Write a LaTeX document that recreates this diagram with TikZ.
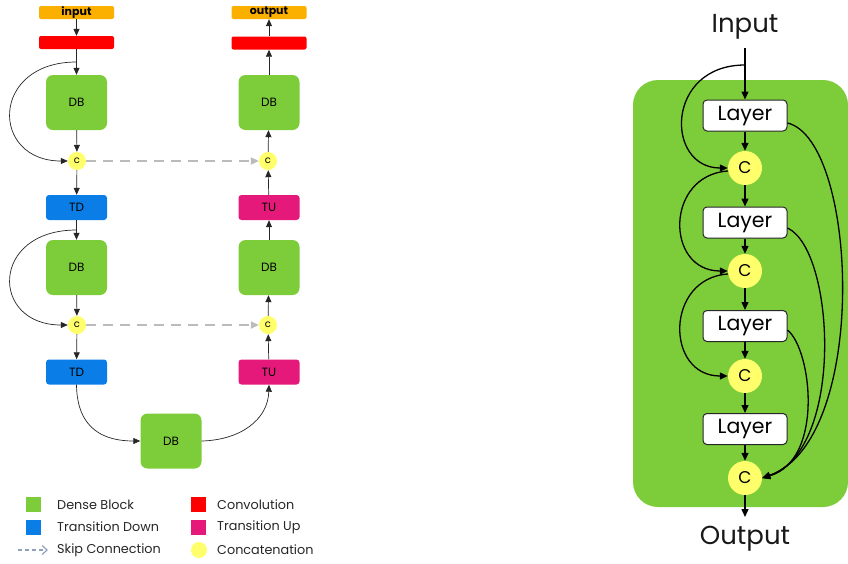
\documentclass[tikz,border=0pt]{standalone}
\usepackage{fontspec}
\setmainfont{Poppins}
\usetikzlibrary{arrows.meta}
\definecolor{dbgreen}{HTML}{7DCD3B}
\definecolor{inorange}{HTML}{FBB000}
\definecolor{convred}{HTML}{FF0000}
\definecolor{tdblue}{HTML}{0B7DE6}
\definecolor{tumag}{HTML}{E5197A}
\definecolor{catyellow}{HTML}{FFFF6B}
\definecolor{skipgray}{HTML}{BBBBBB}
\definecolor{legskip}{HTML}{8FA0BA}
\begin{document}
\begin{tikzpicture}[x=1pt,y=-1pt,
  iobox/.style={fill=inorange, rounded corners=2pt, minimum width=75pt, minimum height=13pt, inner sep=0pt, font=\fontsize{11}{11}\selectfont\bfseries},
  convbox/.style={fill=convred, rounded corners=2pt, minimum width=75pt, minimum height=13pt, inner sep=0pt},
  dbbox/.style={fill=dbgreen, rounded corners=7pt, minimum width=61pt, minimum height=55pt, inner sep=0pt, font=\fontsize{12}{12}\selectfont},
  tdbox/.style={fill=tdblue, rounded corners=3pt, minimum width=61pt, minimum height=25pt, inner sep=0pt, font=\fontsize{12}{12}\selectfont},
  tubox/.style={fill=tumag, rounded corners=3pt, minimum width=61pt, minimum height=25pt, inner sep=0pt, font=\fontsize{12}{12}\selectfont},
  catnode/.style={circle, fill=catyellow, minimum size=18pt, inner sep=0pt, font=\fontsize{10}{10}\selectfont},
  arr/.style={-{Triangle[length=7pt,width=6pt]}, line width=0.7pt, black!85},
  skiparr/.style={-{Triangle[length=8pt,width=7pt]}, line width=2.2pt, skipgray, dash pattern=on 10pt off 7pt},
  legtext/.style={anchor=west, inner sep=0pt, font=\fontsize{12.8}{12.8}\selectfont, text=black!85},
  layerbox/.style={draw=black!85, fill=white, rounded corners=4pt, line width=1pt, minimum width=84pt, minimum height=31pt, inner sep=0pt, font=\fontsize{20.5}{20.5}\selectfont},
  bigcat/.style={circle, fill=catyellow, minimum size=34pt, inner sep=0pt, font=\fontsize{17}{17}\selectfont},
  rarr/.style={-{Triangle[length=8pt,width=7pt]}, line width=1.3pt, black},
  bigtext/.style={font=\fontsize{26}{26}\selectfont, inner sep=0pt, text=black!90}
]
\useasboundingbox (0,0) rectangle (848,563);

% ---------- left: encoder column ----------
\node[iobox] (in) at (76.5,12.5) {input};
\node[convbox] (conv1) at (76.5,42.5) {};
\node[dbbox] (db1) at (76.5,102.5) {DB};
\node[catnode] (c1) at (77,161) {c};
\node[tdbox] (td1) at (76.5,207.5) {TD};
\node[dbbox] (db2) at (76.5,267.5) {DB};
\node[catnode] (c2) at (77,325) {c};
\node[tdbox] (td2) at (76.5,372) {TD};
\node[dbbox] (db3) at (171,441) {DB};

% ---------- left: decoder column ----------
\node[iobox] (out) at (269,12.5) {output};
\node[convbox] (conv2) at (269,43) {};
\node[dbbox] (dbr1) at (269,102.5) {DB};
\node[catnode] (cr1) at (268,161) {c};
\node[tubox] (tu1) at (269,207.5) {TU};
\node[dbbox] (dbr2) at (269,267.5) {DB};
\node[catnode] (cr2) at (268,325) {c};
\node[tubox] (tu2) at (269,372) {TU};

\draw[arr] (in) -- (conv1);
\draw[arr] (conv1) -- (db1);
\draw[arr] (db1) -- (c1);
\draw[arr] (c1) -- (td1);
\draw[arr] (td1) -- (db2);
\draw[arr] (db2) -- (c2);
\draw[arr] (c2) -- (td2);

\draw[arr] (tu2) -- (cr2);
\draw[arr] (cr2) -- (dbr2);
\draw[arr] (dbr2) -- (tu1);
\draw[arr] (tu1) -- (cr1);
\draw[arr] (cr1) -- (dbr1);
\draw[arr] (dbr1) -- (conv2);
\draw[arr] (conv2) -- (out);

\coordinate (s1) at (76.5,62);
\coordinate (s2) at (76.5,230);
\draw[arr] (s1) .. controls (-10,62) and (-10,161) .. (c1.west);
\draw[arr] (s2) .. controls (-10,230) and (-10,325) .. (c2.west);

\draw[arr] (td2.south) .. controls (77,430) and (105,441) .. (db3.west);
\draw[arr] (db3.east) .. controls (240,440) and (268,420) .. (tu2.south);

\draw[skiparr] (c1.east) -- (cr1.west);
\draw[skiparr] (c2.east) -- (cr2.west);

% ---------- legend ----------
\node[fill=dbgreen, minimum size=15pt, inner sep=0pt] (lg1) at (33.5,504.5) {};
\node[fill=tdblue, minimum size=15pt, inner sep=0pt] (lg2) at (33.5,527) {};
\coordinate (lg3a) at (18,550);
\coordinate (lg3b) at (48,550);
\draw[-{Straight Barb[length=5pt,width=9pt]}, line width=1.2pt, legskip, dash pattern=on 4pt off 3pt] (lg3a) -- (lg3b);
\node[fill=convred, minimum size=15pt, inner sep=0pt] (lg4) at (198.5,504.5) {};
\node[fill=tumag, minimum size=15pt, inner sep=0pt] (lg5) at (198.5,527) {};
\node[circle, fill=catyellow, minimum size=16pt, inner sep=0pt] (lg6) at (199,550) {};
\node[legtext] (t1) at (57,504.5) {Dense Block};
\node[legtext] (t2) at (57,527) {Transition Down};
\node[legtext] (t3) at (57,550) {Skip Connection};
\node[legtext] (t4) at (217,504.5) {Convolution};
\node[legtext] (t5) at (217,527) {Transition Up};
\node[legtext] (t6) at (217,550) {Concatenation};

% ---------- right: dense block detail ----------
\fill[dbgreen, rounded corners=25pt] (633,80) rectangle (848,507);
\node[bigtext] (inp) at (745,27) {Input};
\node[bigtext] (outp) at (745,539) {Output};
\coordinate (ti) at (745,48);
\coordinate (to) at (745,517);
\coordinate (tb) at (745,65);

\node[layerbox] (L1) at (745,115.5) {Layer};
\node[bigcat] (K1) at (745,168) {C};
\node[layerbox] (L2) at (745,222.5) {Layer};
\node[bigcat] (K2) at (745,271) {C};
\node[layerbox] (L3) at (745,326) {Layer};
\node[bigcat] (K3) at (745,376) {C};
\node[layerbox] (L4) at (745,429) {Layer};
\node[bigcat] (K4) at (745,478) {C};

\draw[rarr] (ti) -- (L1);
\draw[rarr] (L1) -- (K1);
\draw[rarr] (K1) -- (L2);
\draw[rarr] (L2) -- (K2);
\draw[rarr] (K2) -- (L3);
\draw[rarr] (L3) -- (K3);
\draw[rarr] (K3) -- (L4);
\draw[rarr] (L4) -- (K4);
\draw[rarr] (K4) -- (to);

\draw[rarr] (tb) .. controls (665,65) and (665,168) .. (K1.west);
\draw[rarr] (K1.190) .. controls (665,175) and (665,271) .. (K2.west);
\draw[rarr] (K2.190) .. controls (665,278) and (665,376) .. (K3.west);

\draw[rarr] (L1.east |- 0,123) .. controls (858,140) and (870,440) .. (K4.east);
\draw[rarr] (L2.east |- 0,228) .. controls (835,250) and (845,450) .. (K4.east);
\draw[rarr] (L3.east |- 0,330) .. controls (812,350) and (824,460) .. (K4.east);
\end{tikzpicture}
\end{document}
